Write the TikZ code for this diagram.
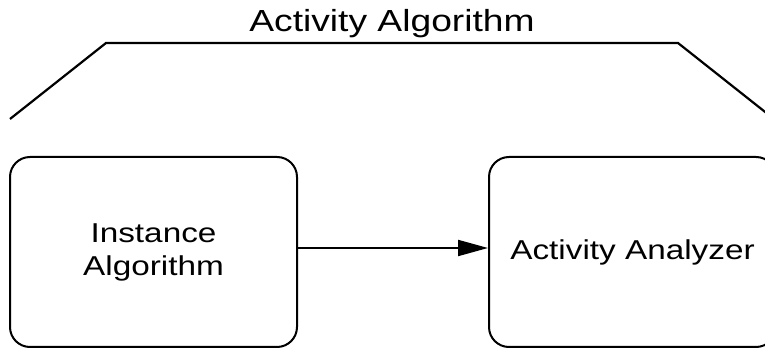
\documentclass[tikz,border=0pt]{standalone}
\usepackage{fontspec}
\newfontfamily\diafont[FakeStretch=1.22]{Liberation Sans}
\usepackage{tikz}
\usetikzlibrary{positioning,arrows.meta}

\begin{document}
\begin{tikzpicture}[x=1pt,y=1pt,
  box/.style={draw,line width=2pt,rounded corners=20pt,minimum width=287pt,minimum height=190pt,align=center,
    font=\diafont\fontsize{27.3}{33}\selectfont},
  arr/.style={-{Triangle[length=30pt,width=16pt]},line width=2pt},node distance=1.25cm and 190pt]
\useasboundingbox (0,0) rectangle (765,350);
\node[box] (inst) at (153.5,98) {Instance\\Algorithm};
\node[box,right=of inst] (anlz) {Activity Analyzer};
\draw[arr] ([yshift=4pt]inst.east)--([yshift=4pt]anlz.west);
% bracket over both parts
\draw[line width=2.2pt] (10,231)--(106,307)--(678,307)--(774,231);
\node[anchor=base,font=\diafont\fontsize{30.5}{36}\selectfont] (title) at (392,318) {Activity Algorithm};
\end{tikzpicture}
\end{document}
